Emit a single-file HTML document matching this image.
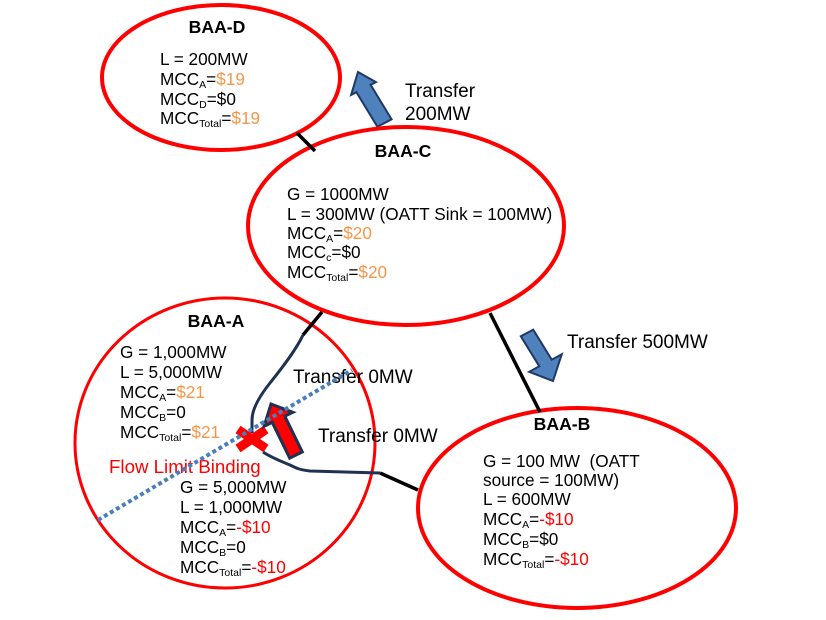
<!DOCTYPE html>
<html>
<head>
<meta charset="utf-8">
<style>
  html,body{margin:0;padding:0;background:#fff;}
  svg{display:block;}
  text{font-family:"Liberation Sans",Arial,sans-serif;fill:#000;}
  .t{font-size:17.2px;}
  .b{font-size:17.6px;font-weight:bold;}
  .tr{font-size:19px;}
  .o{fill:#f79646;}
  .r{fill:#ff0000;}
</style>
</head>
<body>
<svg width="826" height="620" viewBox="0 0 826 620" xmlns="http://www.w3.org/2000/svg">
  <rect width="826" height="620" fill="#fff"/>

  <!-- Blue arrows (under ellipses) -->
  <polygon points="358,72 375.9,82.1 370.6,84.8 391.6,119.3 377.4,126.7 356.4,92.2 351.1,94.9" fill="#4f81bd" stroke="#1f3864" stroke-width="2" stroke-linejoin="miter"/>
  <polygon points="533.2,329.7 551.7,359.7 561.8,354.2 553,381 529.2,371.8 539.3,366.3 520.8,336.3" fill="#4f81bd" stroke="#1f3864" stroke-width="2" stroke-linejoin="miter"/>

  <!-- Ellipses -->
  <ellipse cx="221" cy="77.5" rx="119" ry="72.5" fill="none" stroke="#ff0000" stroke-width="4"/>
  <ellipse cx="406" cy="226" rx="158" ry="99" fill="none" stroke="#ff0000" stroke-width="4"/>
  <ellipse cx="225" cy="443" rx="150" ry="145" fill="none" stroke="#ff0000" stroke-width="3"/>
  <ellipse cx="577" cy="508" rx="159" ry="100" fill="none" stroke="#ff0000" stroke-width="4"/>

  <!-- Black connectors -->
  <line x1="297" y1="133" x2="315" y2="151" stroke="#000" stroke-width="3.5"/>
  <line x1="322" y1="312" x2="303" y2="335" stroke="#000" stroke-width="3.5"/>
  <line x1="490" y1="313" x2="540" y2="412" stroke="#000" stroke-width="3.5"/>
  <line x1="380" y1="473" x2="418" y2="490" stroke="#000" stroke-width="3.5"/>

  <!-- Navy curves -->
  <path d="M303,335 C296,350 282,368 270,383 C258,398 252,410 252,420 L252,433" fill="none" stroke="#1f3251" stroke-width="3"/>
  <path d="M263,452 C272,458 283,462 290,465 C296,468 300,470 310,471 L380,473" fill="none" stroke="#1f3251" stroke-width="3"/>

  <!-- Red X -->
  <line x1="238" y1="429.5" x2="266" y2="448.5" stroke="#ff0000" stroke-width="9"/>
  <line x1="238" y1="448.5" x2="266" y2="429.5" stroke="#ff0000" stroke-width="9"/>

  <!-- Red arrow -->
  <polygon points="271,404 292.9,412.3 284.8,416.2 302.3,451.9 289.7,458.1 272.2,422.4 264.1,426.3" fill="#ff0000" stroke="#1f3251" stroke-width="3" stroke-linejoin="miter"/>

  <!-- BAA-D text -->
  <text class="b" x="217" y="33" text-anchor="middle">BAA-D</text>
  <text class="t" x="160" y="65">L = 200MW</text>
  <text class="t" x="160" y="85">MCC<tspan font-size="10.5" dy="3">A</tspan><tspan dy="-3">=</tspan><tspan class="o">$19</tspan></text>
  <text class="t" x="160" y="105">MCC<tspan font-size="10.5" dy="3">D</tspan><tspan dy="-3">=$0</tspan></text>
  <text class="t" x="160" y="124">MCC<tspan font-size="10.5" dy="3">Total</tspan><tspan dy="-3">=</tspan><tspan class="o">$19</tspan></text>

  <!-- Transfer 200MW -->
  <text class="tr" x="405" y="97">Transfer</text>
  <text class="tr" x="405" y="120">200MW</text>

  <!-- BAA-C text -->
  <text class="b" x="403" y="157" text-anchor="middle">BAA-C</text>
  <text class="t" x="287" y="200">G = 1000MW</text>
  <text class="t" x="287" y="220">L = 300MW (OATT Sink = 100MW)</text>
  <text class="t" x="287" y="239">MCC<tspan font-size="10.5" dy="3">A</tspan><tspan dy="-3">=</tspan><tspan class="o">$20</tspan></text>
  <text class="t" x="287" y="258">MCC<tspan font-size="10.5" dy="3">c</tspan><tspan dy="-3">=$0</tspan></text>
  <text class="t" x="287" y="278">MCC<tspan font-size="10.5" dy="3">Total</tspan><tspan dy="-3">=</tspan><tspan class="o">$20</tspan></text>

  <!-- Transfer 500MW -->
  <text class="tr" x="567" y="348">Transfer 500MW</text>

  <!-- BAA-A text -->
  <text class="b" x="216" y="327" text-anchor="middle">BAA-A</text>
  <text class="t" x="120" y="358">G = 1,000MW</text>
  <text class="t" x="120" y="378">L = 5,000MW</text>
  <text class="t" x="120" y="398">MCC<tspan font-size="10.5" dy="3">A</tspan><tspan dy="-3">=</tspan><tspan class="o">$21</tspan></text>
  <text class="t" x="120" y="418">MCC<tspan font-size="10.5" dy="3">B</tspan><tspan dy="-3">=0</tspan></text>
  <text class="t" x="120" y="438">MCC<tspan font-size="10.5" dy="3">Total</tspan><tspan dy="-3">=</tspan><tspan class="o">$21</tspan></text>

  <text class="tr" x="293" y="383">Transfer 0MW</text>
  <text class="tr" x="318" y="442">Transfer 0MW</text>
  <text x="109" y="473" font-size="18.7" class="r">Flow Limit Binding</text>

  <text class="t" x="180" y="493">G = 5,000MW</text>
  <text class="t" x="180" y="513">L = 1,000MW</text>
  <text class="t" x="180" y="533">MCC<tspan font-size="10.5" dy="3">A</tspan><tspan dy="-3">=</tspan><tspan class="r">-$10</tspan></text>
  <text class="t" x="180" y="553">MCC<tspan font-size="10.5" dy="3">B</tspan><tspan dy="-3">=0</tspan></text>
  <text class="t" x="180" y="573">MCC<tspan font-size="10.5" dy="3">Total</tspan><tspan dy="-3">=</tspan><tspan class="r">-$10</tspan></text>

  <!-- BAA-B text -->
  <text class="b" x="562" y="430" text-anchor="middle">BAA-B</text>
  <text class="t" x="483" y="467" style="white-space:pre" xml:space="preserve">G = 100 MW  (OATT</text>
  <text class="t" x="483" y="486">source = 100MW)</text>
  <text class="t" x="483" y="505">L = 600MW</text>
  <text class="t" x="483" y="525">MCC<tspan font-size="10.5" dy="3">A</tspan><tspan dy="-3">=</tspan><tspan class="r">-$10</tspan></text>
  <text class="t" x="483" y="545">MCC<tspan font-size="10.5" dy="3">B</tspan><tspan dy="-3">=$0</tspan></text>
  <text class="t" x="483" y="565">MCC<tspan font-size="10.5" dy="3">Total</tspan><tspan dy="-3">=</tspan><tspan class="r">-$10</tspan></text>

  <!-- Dotted blue line (on top) -->
  <line x1="98" y1="520" x2="352" y2="370" stroke="#4a7ebb" stroke-width="4" stroke-dasharray="4 3"/>
</svg>
</body>
</html>
